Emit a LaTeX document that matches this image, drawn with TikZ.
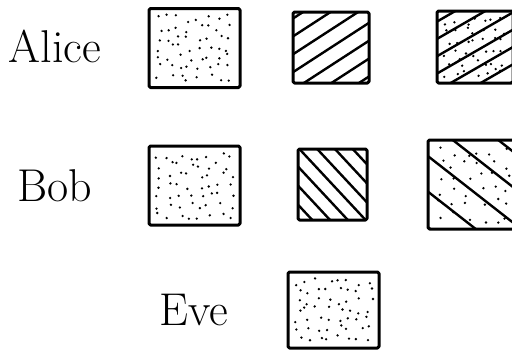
\documentclass[tikz,border=0pt]{standalone}
\usetikzlibrary{calc}

% scattered dots inside the current node: columns, rows
\newcommand\dotsin[2]{%
  \foreach \i in {1,...,#1}{%
    \foreach \j in {1,...,#2}{%
      \fill let \p1=(path picture bounding box.south west),
                \p2=(path picture bounding box.north east) in
        ({\x1+5pt+(\i-0.5+0.8*(rnd-0.5))/#1*(\x2-\x1-10pt)},
         {\y1+5pt+(\j-0.5+0.8*(rnd-0.5))/#2*(\y2-\y1-10pt)}) circle (1.3pt);
    }}}
% parallel strokes: angle, spacing, shift
\newcommand\linesin[3]{%
  \foreach \d in {-8,...,8}{%
    \draw[line width=2.4pt, line cap=round]
      ($(path picture bounding box.center)+({#1+90}:{\d*#2+#3})+(#1:-90)$) --
      ($(path picture bounding box.center)+({#1+90}:{\d*#2+#3})+(#1:90)$);
  }}

\begin{document}
\begin{tikzpicture}[x=1pt, y=-1pt,
    who/.style={font=\fontsize{46}{46}\selectfont, inner sep=0pt},
    swatch/.style 2 args={draw, line width=3pt, line join=round,
        rounded corners=1.5pt, minimum width=#1pt, minimum height=#2pt, inner sep=0pt},
]
\pgfmathsetseed{7}
\useasboundingbox (0,0) rectangle (512,351);

% names
\node[who] (alice) at (55,46) {Alice};
\node[who] (bob) at (55,186) {Bob};
\node[who] (eve) at (194,310) {Eve};

% Alice
\node[swatch={91}{79}, path picture={\dotsin{8}{7}}] (alice1) at (194.5,48) {};
\node[swatch={76}{71}, path picture={\linesin{-33}{15}{0}}] (alice2) at (331,47.5) {};
\node[swatch={76}{72}, path picture={\dotsin{7}{6}\linesin{-30}{15}{4}}] (alice3) at (475,47) {};

% Bob
\node[swatch={91}{79}, path picture={\dotsin{8}{7}}] (bob1) at (194.5,185.5) {};
\node[swatch={69}{71}, path picture={\linesin{47}{13}{0}}] (bob2) at (332.5,184.5) {};
\node[swatch={92}{89}, path picture={\dotsin{6}{6}\linesin{38}{28}{6}}] (bob3) at (474,184.5) {};

% Eve
\node[swatch={91}{76}, path picture={\dotsin{8}{7}}] (eve1) at (333.5,310) {};
\end{tikzpicture}
\end{document}
